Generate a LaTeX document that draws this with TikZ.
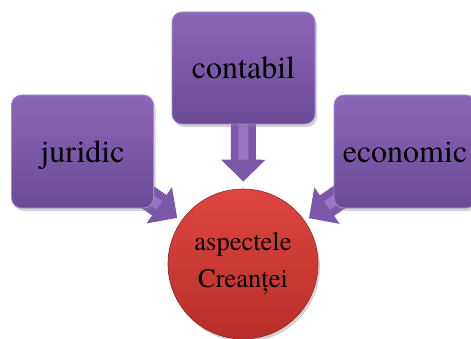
\documentclass[tikz,border=0pt]{standalone}
\usepackage{fontspec}
\setmainfont{texgyretermes-regular.otf}
\usetikzlibrary{arrows.meta,shadows}

\definecolor{boxtop}{HTML}{8A66B8}
\definecolor{boxbot}{HTML}{6A4B96}
\definecolor{boxedge}{HTML}{A58AD0}
\definecolor{arrowfill}{HTML}{7C58AA}
\definecolor{arrowlight}{HTML}{A68AD0}
\definecolor{redtop}{HTML}{DE4640}
\definecolor{redbot}{HTML}{B82E2A}

\tikzset{
  aspectbox/.style={rounded corners=10pt, minimum width=142pt, minimum height=113pt,
    top color=boxtop, bottom color=boxbot, draw=boxedge, line width=0.8pt,
    drop shadow={opacity=0.35, shadow xshift=2pt, shadow yshift=-3pt},
    font=\fontsize{32}{38}\selectfont, text height=22pt, text depth=0pt, inner sep=0pt},
  hub/.style={circle, minimum size=150pt, inner sep=0pt,
    top color=redtop, bottom color=redbot, draw=redbot!80!black, line width=0.6pt,
    drop shadow={opacity=0.35, shadow xshift=2pt, shadow yshift=-3pt},
    align=center, font=\fontsize{26.5}{37}\selectfont},
  fatarrow/.style={arrowfill, line width=25pt, -{Triangle[length=22pt,width=43pt]}},
  fatstripe/.style={arrowlight, line width=10pt, opacity=0.6}
}

\begin{document}
\begin{tikzpicture}[x=1pt,y=1pt]
  \useasboundingbox (0,0) rectangle (471,338);
  \clip (0,0) rectangle (471,338);

  % centre circle
  \node[hub] (creanta) at (243,74) {aspectele\\Creanței};

  % placement of the three boxes (drawn later, over the arrows)
  \coordinate (jc) at (82.5,186.5);
  \coordinate (cc) at (243.5,270);
  \coordinate (ec) at (405,186.5);

  % arrows pointing into the circle
  \draw[fatarrow, shorten >=5pt] (jc) -- (creanta);
  \draw[fatstripe, shorten >=27pt] (jc) -- (creanta);
  \draw[fatarrow, shorten >=5pt] (ec) -- (creanta);
  \draw[fatstripe, shorten >=27pt] (ec) -- (creanta);
  \draw[fatarrow, shorten >=7pt] (cc) -- (creanta);
  \draw[fatstripe, shorten >=29pt] (cc) -- (creanta);

  % the three aspects
  \node[aspectbox] (juridic) at (jc) {juridic};
  \node[aspectbox, minimum width=143pt, minimum height=112pt] (contabil) at (cc) {contabil};
  \node[aspectbox] (economic) at (ec) {economic};
\end{tikzpicture}
\end{document}
